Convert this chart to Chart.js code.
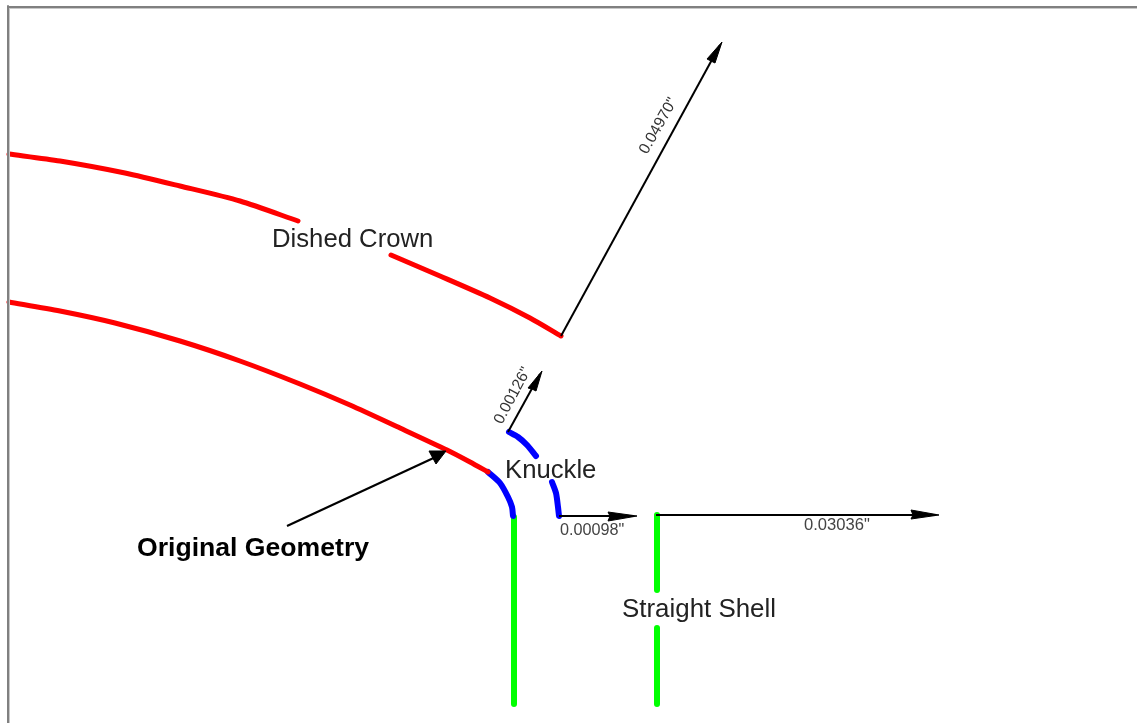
<!DOCTYPE html>
<html>
<head>
<meta charset="utf-8">
<title>Dished head geometry</title>
<style>
html,body{margin:0;padding:0;background:#fff;overflow:hidden}
#wrap{position:absolute;left:0;top:0;width:1137px;height:723px}
</style>
<script src="https://cdn.jsdelivr.net/npm/chart.js@4/dist/chart.umd.js"></script>
</head>
<body>
<div id="wrap"><canvas id="c" width="1137" height="723"></canvas></div>
<script>
// Red: dished crown, upper and lower (original) profiles
const crownOuterA = [[9,154],[60,161],[125,173],[180,186],[240,201],[298,221]];
const crownOuterB = [[391,255],[440,276],[490,298],[530,318],[561,336]];
const crownOriginal = [[9,302],[60,311],[115,323],[180,341],[240,361],[300,384],[350,405],[400,428],[447,450],[470,462],[488,472]];
// Blue: knuckle arcs
const knuckleOriginal = [[488,472],[500,483],[508,497],[512,507],[513,516]];
const knuckleOffsetA = [[509,432],[518,437],[527,445],[536,456]];
const knuckleOffsetB = [[552,482],[556,493],[558,507],[559,516]];
// Green: straight shell
const shellOriginal = [[514,517],[514,704]];
const shellOffsetA = [[657,515],[657,590]];
const shellOffsetB = [[657,628],[657,704]];
// Black: dimension shafts and leader
const dim04970 = [[561,336],[720,45]];
const dim00126 = [[508,432],[540,374]];
const dim00098 = [[559,516],[634,516]];
const dim03036 = [[656,515],[936,515]];
const leader = [[287,526],[440,455]];
// Arrow heads
const head04970 = [[722,42],[707,59],[711,61],[715,63]];
const head00126 = [[542,371],[528,388],[532,389],[536,391]];
const head00098 = [[637,516],[608,512],[610,516],[608,521]];
const head03036 = [[939,515],[911,510],[913,515],[911,519]];
const headLeader = [[446,451],[429,451],[436,464]];
// Window frame
const frameTop = [[8,7],[1137,7]];
const frameLeft = [[8,6],[8,723]];
const frameTopLight = [[9,8.5],[1137,8.5]];
const frameLeftLight = [[9.5,8],[9.5,723]];
// Annotations: text, x, y (baseline), font, rotation in degrees, colour
const labelTexts = ['Dished Crown','Knuckle','Straight Shell','Original Geometry','0.00098"','0.03036"','0.04970"','0.00126"'];
const labelX = [272,505,622,137,560,804,647,502];
const labelY = [247,478,617,556,535,530,155,425];
const labelFonts = ['25.7px','25.7px','25.9px','bold 26.6px','16.2px','16.6px','15.6px','15.6px'];
const labelAngles = [0,0,0,0,0,0,-60.5,-62];
const labelColors = ['#222','#222','#222','#000','#444','#444','#333','#333'];

const pts = a => a.map(p => ({x:p[0], y:p[1]}));
const stroke = (name,data,color,width) => ({label:name,data:pts(data),borderColor:color,borderWidth:width,
  borderCapStyle:'round',borderJoinStyle:'round',tension:0.25,pointRadius:0,showLine:true,fill:false});
const straight = (name,data,color,width) => Object.assign(stroke(name,data,color,width),{tension:0,borderCapStyle:'butt'});
const head = (name,data) => ({label:name,data:pts(data.concat([data[0]])),borderColor:'#000',borderWidth:1,
  backgroundColor:'#000',tension:0,pointRadius:0,showLine:true,fill:'shape'});

const annotations = {
  id:'annotations',
  afterDatasetsDraw(chart){
    const {ctx,scales:{x,y}} = chart;
    labelTexts.forEach((t,i)=>{
      ctx.save();
      ctx.translate(x.getPixelForValue(labelX[i]), y.getPixelForValue(labelY[i]));
      ctx.rotate(labelAngles[i]*Math.PI/180);
      ctx.font = labelFonts[i]+' "Liberation Sans", Arial, sans-serif';
      ctx.fillStyle = labelColors[i];
      ctx.textBaseline = 'alphabetic';
      ctx.fillText(t,0,0);
      ctx.restore();
    });
  }
};

new Chart(document.getElementById('c'),{
  type:'scatter',
  data:{datasets:[
    straight('frameTop',frameTop,'#808080',2),
    straight('frameLeft',frameLeft,'#808080',2),
    straight('frameTopLight',frameTopLight,'#c8c8c8',1),
    straight('frameLeftLight',frameLeftLight,'#c8c8c8',1),
    straight('dim04970',dim04970,'#000',2),
    straight('dim00126',dim00126,'#000',2),
    straight('dim00098',dim00098,'#000',2),
    straight('dim03036',dim03036,'#000',2),
    straight('leader',leader,'#000',2.2),
    head('head04970',head04970),
    head('head00126',head00126),
    head('head00098',head00098),
    head('head03036',head03036),
    head('headLeader',headLeader),
    stroke('crownOuterA',crownOuterA,'#ff0000',5),
    stroke('crownOuterB',crownOuterB,'#ff0000',5),
    stroke('crownOriginal',crownOriginal,'#ff0000',5),
    stroke('knuckleOriginal',knuckleOriginal,'#0000ff',6),
    stroke('knuckleOffsetA',knuckleOffsetA,'#0000ff',6),
    stroke('knuckleOffsetB',knuckleOffsetB,'#0000ff',6),
    stroke('shellOriginal',shellOriginal,'#00ff00',6),
    stroke('shellOffsetA',shellOffsetA,'#00ff00',6),
    stroke('shellOffsetB',shellOffsetB,'#00ff00',6)
  ]},
  options:{
    responsive:false,animation:false,
    layout:{padding:0},
    plugins:{legend:{display:false},tooltip:{enabled:false},title:{display:false}},
    scales:{
      x:{type:'linear',min:0,max:1137,display:false},
      y:{type:'linear',min:0,max:723,reverse:true,display:false}
    }
  },
  plugins:[annotations]
});
</script>
</body>
</html>
